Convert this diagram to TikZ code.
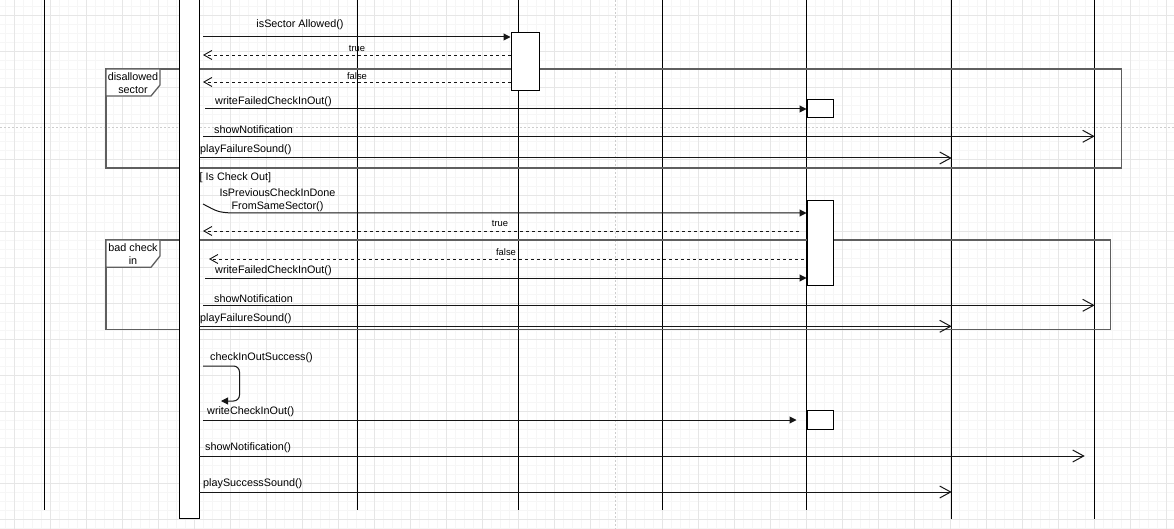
\documentclass[tikz,border=0pt]{standalone}
\usepackage{fontspec}
\setmainfont{Liberation Sans}
\usetikzlibrary{
  arrows.meta,
  positioning
}
\definecolor{gridminor}{RGB}{246,246,246}
\definecolor{gridmajor}{RGB}{230,230,230}
\definecolor{pagebreak}{RGB}{205,205,205}
\definecolor{framegray}{RGB}{95,95,95}
\definecolor{linedark}{RGB}{22,22,22}

\begin{document}
\begin{tikzpicture}[x=1pt, y=-1pt,
    every node/.style={font=\fontsize{10.8}{13}\selectfont, inner sep=0pt, text=black},
    smalllbl/.style={font=\fontsize{9.4}{11}\selectfont, yshift=-1.2pt},
    msglbl/.style={anchor=west, yshift=-1.2pt},
    msg/.style={draw=linedark, line width=1pt, -{Triangle[length=7pt, width=7pt]}},
    async/.style={draw=linedark, line width=1pt, -{Straight Barb[length=11pt, width=12pt]}},
    reply/.style={draw=linedark, line width=0.9pt, dash pattern=on 3pt off 3pt, -{Straight Barb[length=8pt, width=9pt]}},
    lifeln/.style={draw=black, line width=1pt},
    actbox/.style={draw=black, fill=white, line width=1pt, inner sep=0pt},
    fragframe/.style={draw=framegray, line width=1.3pt}]
            \useasboundingbox (0,0) rectangle (1174,529);
            \fill[white] (0,0) rectangle (1174,529);
            \foreach \gx in {5,14,...,1174} \draw[gridminor, line width=0.6pt] (\gx,0) -- (\gx,529);
            \foreach \gy in {6,15,...,529} \draw[gridminor, line width=0.6pt] (0,\gy) -- (1174,\gy);
            \foreach \gx in {14,50,...,1174} \draw[gridmajor, line width=0.8pt] (\gx,0) -- (\gx,529);
            \foreach \gy in {15,51,...,529} \draw[gridmajor, line width=0.8pt] (0,\gy) -- (1174,\gy);
            \draw[pagebreak, line width=1pt, dash pattern=on 2pt off 2pt] (0,128) -- (1174,128);
            \draw[pagebreak, line width=1pt, dash pattern=on 2pt off 2pt] (615,0) -- (615,529);

            \coordinate (ll0) at (44.3,0);
            \coordinate (ll2) at (357.3,0);
            \coordinate (ll3) at (518.3,0);
            \coordinate (ll4) at (662.7,0);
            \coordinate (ll5) at (806.7,0);
            \coordinate (ll6) at (951.7,0);
            \coordinate (ll7) at (1094.7,0);
            \foreach \ll in {ll0,ll2,ll3,ll4,ll5} \draw[lifeln] (\ll) -- ++(0,510);
            \foreach \ll in {ll6,ll7} \draw[lifeln] (\ll) -- ++(0,519);

            \draw[fragframe] (106,69) rectangle (1121.5,168);
            \draw[fragframe, fill=white] (106,69) -- (160,69) -- (160,85) -- (151,96) -- (106,96) -- cycle;
            \node[align=center] (fragA) at (133,83) {disallowed\\sector};
            \draw[fragframe] (106,240) rectangle (1110.3,329.3);
            \draw[fragframe, fill=white] (106,240) -- (160,240) -- (160,256) -- (151,267.3) -- (106,267.3) -- cycle;
            \node[align=center] (fragB) at (133,254) {bad check\\in};

            \node[actbox, minimum width=20pt, minimum height=530pt, anchor=south] (ctrl) at (189,519) {};
            \node[actbox, minimum width=28pt, minimum height=58pt] (act1) at (525,62) {};
            \node[actbox, minimum width=26pt, minimum height=18pt] (act2) at (820,109) {};
            \node[actbox, minimum width=26pt, minimum height=84pt] (act3) at (820,243) {};
            \node[actbox, minimum width=26pt, minimum height=19pt] (act4) at (820,419.5) {};

            \coordinate (s1) at (203,37);
            \coordinate (r1) at (203,55);
            \coordinate (r2) at (203,82);
            \coordinate (s2) at (205,109);
            \coordinate (s3) at (203,136.3);
            \coordinate (s4) at (199,158);
            \coordinate (c5) at (203,204);
            \coordinate (s5) at (231,213);
            \coordinate (r3) at (203,231);
            \coordinate (r4) at (209,259);
            \coordinate (s6) at (205,278);
            \coordinate (s7) at (203,305.3);
            \coordinate (s8) at (199,326.3);
            \coordinate (s9) at (203,366);
            \coordinate (t9) at (239.5,401);
            \coordinate (e9) at (221,401);
            \coordinate (s10) at (203,420);
            \coordinate (s11) at (199,456);
            \coordinate (s12) at (199,492);

            \draw[msg] (s1) -- (s1 -| act1.west);
            \draw[reply] (r1 -| act1.west) -- (r1);
            \draw[reply] (r2 -| act1.west) -- (r2);
            \draw[msg] (s2) -- (s2 -| act2.west);
            \draw[async] (s3) -- (s3 -| ll7);
            \draw[async] (s4) -- (s4 -| ll6);
            \draw[msg] (c5) .. controls (218,212) .. (s5) -- (s5 -| act3.west);
            \draw[reply, shorten <=8pt] (r3 -| act3.west) -- (r3);
            \draw[reply, shorten <=3pt] (r4 -| act3.west) -- (r4);
            \draw[msg] (s6) -- (s6 -| act3.west);
            \draw[async] (s7) -- (s7 -| ll7);
            \draw[async] (s8) -- (s8 -| ll6);
            \draw[msg, rounded corners=6pt] (s9) -| (t9) -- (e9);
            \draw[msg, shorten >=10pt] (s10) -- (s10 -| act4.west);
            \draw[async, shorten >=10pt] (s11) -- (s11 -| ll7);
            \draw[async] (s12) -- (s12 -| ll6);

            \node[yshift=-1.2pt] (m1) at (300,24) {isSector Allowed()};
            \node[smalllbl] (m1t) at (357,47.5) {true};
            \node[smalllbl] (m1f) at (357,74.5) {false};
            \node[msglbl] (m2) at (215,101) {writeFailedCheckInOut()};
            \node[msglbl] (m3) at (214,128) {showNotification};
            \node[msglbl] (m4) at (200,149) {playFailureSound()};
            \node[msglbl] (guard) at (199.5,177) {[ Is Check Out]};
            \node[align=center, yshift=-1.2pt] (m5) at (277.5,199.5) {IsPreviousCheckInDone\\FromSameSector()};
            \node[smalllbl] (m5t) at (500,222.5) {true};
            \node[smalllbl] (m5f) at (506,250.5) {false};
            \node[msglbl] (m6) at (215,270) {writeFailedCheckInOut()};
            \node[msglbl] (m7) at (214,297) {showNotification};
            \node[msglbl] (m8) at (200,318) {playFailureSound()};
            \node[msglbl] (m9) at (210,357) {checkInOutSuccess()};
            \node[msglbl] (m10) at (207,411) {writeCheckInOut()};
            \node[msglbl] (m11) at (205,447) {showNotification()};
            \node[msglbl] (m12) at (203,483) {playSuccessSound()};
        \end{tikzpicture}
\end{document}
